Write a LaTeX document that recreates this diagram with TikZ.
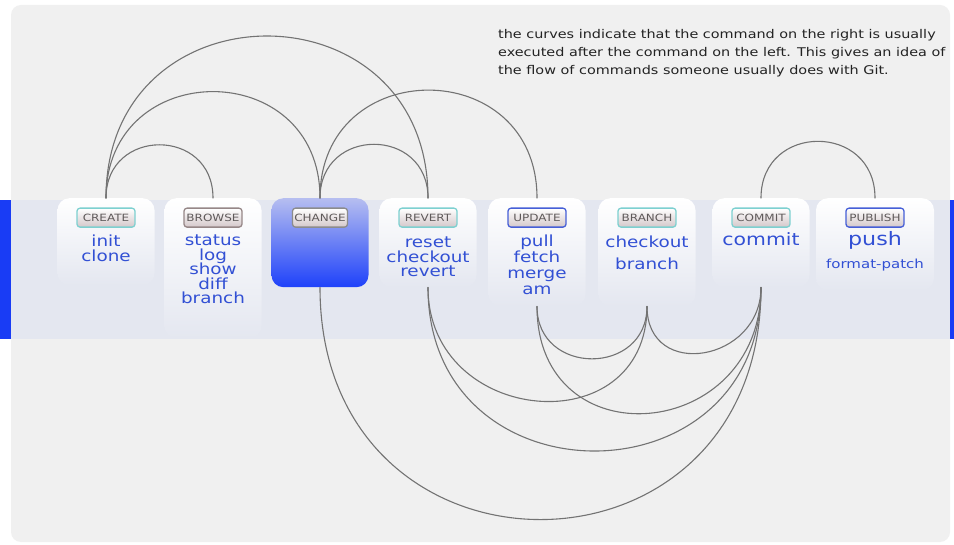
\documentclass[tikz,border=0pt]{standalone}
\usepackage{fontspec}
\setmainfont[FakeStretch=1.2]{DejaVu Sans}
\usepackage{tikz}
\usetikzlibrary{positioning}
\usepackage{color}
\definecolor{panel}{RGB}{240,240,240}
\definecolor{band}{RGB}{228,231,240}
\definecolor{bar}{RGB}{25,60,245}
\definecolor{cmdblue}{RGB}{50,80,212}
\definecolor{curvegray}{RGB}{115,115,115}
\definecolor{tagfill}{RGB}{212,200,202}
\definecolor{tagteal}{RGB}{125,208,208}
\definecolor{tagbrown}{RGB}{150,135,135}
\definecolor{taggray}{RGB}{140,140,140}
\definecolor{tagblue}{RGB}{70,95,215}
\definecolor{tagtext}{RGB}{95,90,90}
\definecolor{changetop}{RGB}{182,190,240}
\definecolor{changebot}{RGB}{30,65,250}
\definecolor{notetext}{RGB}{35,35,35}

\tikzset{
  cbox/.style={anchor=north, rounded corners=12pt, minimum width=97pt, inner sep=0pt,
    top color=white, bottom color=band},
  tag/.style={draw=#1, line width=1.3pt, rounded corners=3pt, top color=white, bottom color=tagfill,
    minimum width=58pt, minimum height=19pt, inner sep=1pt, text=tagtext,
    font=\fontsize{10}{10}\selectfont},
  cmds/.style={align=center, text=cmdblue, inner sep=0pt,
    font=\fontsize{15.3}{#1}\selectfont},
  cmds/.default=14.5,
  curve/.style={color=curvegray, line width=1.1pt},
}

\begin{document}
\lineskiplimit=-100pt
\begin{tikzpicture}[line cap=round,line join=round,x=1pt,y=-1pt]
\useasboundingbox (0,0) rectangle (954,545);
%tausta
\fill[white] (0,0) rectangle (954,545);
\fill[panel, rounded corners=10pt] (11,5) rectangle (950,542);
\fill[band] (11,200) rectangle (950,339);
\fill[bar] (0,200) rectangle (11,339);
\fill[bar] (950,200) rectangle (954,339);

%laatikot
\node[cbox, minimum height=87pt] (create) at (106,198) {};
\node[cbox, minimum height=140pt] (browse) at (213,198) {};
\node[cbox, minimum height=89pt, top color=changetop, bottom color=changebot] (change) at (320,198) {};
\node[cbox, minimum height=89pt] (revert) at (428,198) {};
\node[cbox, minimum height=108pt] (update) at (537,198) {};
\node[cbox, minimum height=108pt] (branch) at (647,198) {};
\node[cbox, minimum height=89pt] (commit) at (761,198) {};
\node[cbox, minimum height=92pt, minimum width=118pt] (publish) at (875,198) {};

%otsikot
\node[tag=tagteal, below=9.5pt of create.north] (createtag) {CREATE};
\node[tag=tagbrown, below=9.5pt of browse.north] (browsetag) {BROWSE};
\node[tag=taggray, below=9.5pt of change.north, minimum width=55pt] (changetag) {CHANGE};
\node[tag=tagteal, below=9.5pt of revert.north] (reverttag) {REVERT};
\node[tag=tagblue, below=9.5pt of update.north] (updatetag) {UPDATE};
\node[tag=tagteal, below=9.5pt of branch.north] (branchtag) {BRANCH};
\node[tag=tagteal, below=9.5pt of commit.north] (committag) {COMMIT};
\node[tag=tagblue, below=9.5pt of publish.north] (publishtag) {PUBLISH};

%komennot
\node[cmds=15, below=7pt of createtag] (createcmds) {init\\clone};
\node[cmds, below=7pt of browsetag] (browsecmds) {status\\log\\show\\diff\\branch};
\node[cmds, below=9pt of reverttag] (revertcmds) {reset\\checkout\\revert};
\node[cmds=16, below=6.5pt of updatetag] (updatecmds) {pull\\fetch\\merge\\am};
\node[cmds=22, below=8pt of branchtag] (branchcmds) {checkout\\branch};
\node[cmds, below=4.5pt of committag, font=\fontsize{17}{17}\selectfont] (commitcmds) {commit};
\node[cmds=23, below=3.5pt of publishtag] (publishcmds) {{\fontsize{18.5}{18.5}\selectfont push}\\{\fontsize{12.5}{12.5}\selectfont format-patch}};

%kaaret ylos
\foreach \a/\b/\l in {create/browse/1.7, create/change/1.7, create/revert/1.72, change/revert/1.7, change/update/1.7, commit/publish/1.7}
{
\draw[curve] (\a.north) to[out=90,in=90,looseness=\l] (\b.north);
}
%kaaret alas
\foreach \a/\b/\l in {change/commit/1.8, revert/branch/1.62, revert/commit/1.68, update/branch/1.63, update/commit/1.77, branch/commit/1.65}
{
\draw[curve] (\a.south) to[out=-90,in=-90,looseness=\l] (\b.south);
}

\node[anchor=north west, inner sep=0pt, align=left, text=notetext, font=\fontsize{12}{18}\selectfont] (note) at (498,29)
{the curves indicate that the command on the right is usually\\
executed after the command on the left. This gives an idea of\\
the flow of commands someone usually does with Git.};
\end{tikzpicture}
\end{document}
